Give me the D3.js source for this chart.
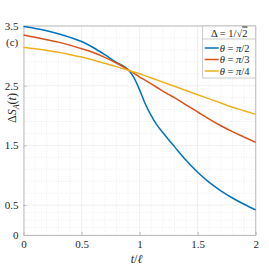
<!DOCTYPE html>
<html>
<head>
<meta charset="utf-8">
<script src="https://cdn.jsdelivr.net/npm/d3@7"></script>
<style>
  body { margin: 0; background: #fff; }
  svg text { font-family: "Liberation Serif", "DejaVu Serif", serif; fill: #262626; }
</style>
</head>
<body>
<div id="chart"></div>
<script>
// Data
const tValues = [0, 0.1, 0.2, 0.3, 0.4, 0.5, 0.6, 0.7, 0.8, 0.9, 0.95, 1.0, 1.05, 1.1, 1.15, 1.2, 1.25, 1.3, 1.4, 1.5, 1.6, 1.7, 1.8, 1.9, 2.0];
const seriesPi2 = [3.49, 3.46, 3.42, 3.37, 3.31, 3.24, 3.14, 3.02, 2.89, 2.77, 2.64, 2.43, 2.19, 2.00, 1.84, 1.715, 1.595, 1.48, 1.25, 1.05, 0.88, 0.74, 0.62, 0.515, 0.42];
const seriesPi3 = [3.35, 3.31, 3.27, 3.23, 3.18, 3.12, 3.055, 2.975, 2.88, 2.77, 2.71, 2.645, 2.59, 2.53, 2.47, 2.41, 2.355, 2.30, 2.18, 2.06, 1.94, 1.83, 1.73, 1.64, 1.55];
const seriesPi4 = [3.14, 3.12, 3.09, 3.06, 3.02, 2.98, 2.93, 2.875, 2.82, 2.76, 2.73, 2.70, 2.665, 2.63, 2.595, 2.56, 2.525, 2.49, 2.42, 2.35, 2.28, 2.21, 2.14, 2.08, 2.02];
const seriesLabels = ["π/2", "π/3", "π/4"];
const xTicks = [0, 0.5, 1, 1.5, 2];
const yTicks = [0, 0.5, 1.5, 2.5, 3.5];
const xMinor = [0.1, 0.2, 0.3, 0.4, 0.6, 0.7, 0.8, 0.9, 1.1, 1.2, 1.3, 1.4, 1.6, 1.7, 1.8, 1.9];
const yMinor = [0.125, 0.25, 0.375, 0.7, 0.9, 1.1, 1.3, 1.7, 1.9, 2.1, 2.3, 2.7, 2.9, 3.1, 3.3];

const colors = ["#0072BD", "#D95319", "#EDB120"];
const serif = "'Liberation Serif', 'DejaVu Serif', serif";

const W = 269, H = 273;
const margin = { top: 26, right: 13.3, bottom: 38, left: 23.5 };
const width = W - margin.left - margin.right;
const height = H - margin.top - margin.bottom;

const svg = d3.select("#chart").append("svg")
    .attr("width", W)
    .attr("height", H)
    .attr("font-family", serif);

const g = svg.append("g")
    .attr("transform", `translate(${margin.left},${margin.top})`);

const x = d3.scaleLinear().domain([0, 2]).range([0, width]);
const y = d3.scaleLinear().domain([0, 3.5]).range([height, 0]);

// Minor grid
g.append("g").selectAll("line").data(xMinor).join("line")
    .attr("x1", d => x(d)).attr("x2", d => x(d))
    .attr("y1", 0).attr("y2", height)
    .attr("stroke", "#e2e2e2").attr("stroke-width", 0.6).attr("stroke-dasharray", "1,1.5");
g.append("g").selectAll("line").data(yMinor).join("line")
    .attr("y1", d => y(d)).attr("y2", d => y(d))
    .attr("x1", 0).attr("x2", width)
    .attr("stroke", "#e2e2e2").attr("stroke-width", 0.6).attr("stroke-dasharray", "1,1.5");

// Major grid
g.append("g").selectAll("line").data(xTicks).join("line")
    .attr("x1", d => x(d)).attr("x2", d => x(d))
    .attr("y1", 0).attr("y2", height)
    .attr("stroke", "#ebebeb").attr("stroke-width", 0.8);
g.append("g").selectAll("line").data(yTicks).join("line")
    .attr("y1", d => y(d)).attr("y2", d => y(d))
    .attr("x1", 0).attr("x2", width)
    .attr("stroke", "#ebebeb").attr("stroke-width", 0.8);

// Axes
const xAxis = d3.axisBottom(x).tickValues(xTicks).tickSizeInner(-3).tickSizeOuter(0)
    .tickPadding(5).tickFormat(d3.format("~g"));
const yAxis = d3.axisLeft(y).tickValues(yTicks).tickSizeInner(-3).tickSizeOuter(0)
    .tickPadding(5).tickFormat(d3.format("~g"));

const gx = g.append("g").attr("transform", `translate(0,${height})`).call(xAxis);
const gy = g.append("g").call(yAxis);
[gx, gy].forEach(a => {
    a.attr("font-family", serif).attr("font-size", 11);
    a.selectAll(".domain").attr("stroke", "#bdbdbd");
    a.selectAll(".tick line").attr("stroke", "#bdbdbd");
    a.selectAll("text").attr("fill", "#262626");
});
// box
g.append("line").attr("x1", 0).attr("x2", width).attr("y1", 0).attr("y2", 0).attr("stroke", "#bdbdbd");
g.append("line").attr("x1", width).attr("x2", width).attr("y1", 0).attr("y2", height).attr("stroke", "#bdbdbd");

// Lines
const series = [seriesPi2, seriesPi3, seriesPi4];
const line = d3.line()
    .x((d, i) => x(tValues[i]))
    .y(d => y(d))
    .curve(d3.curveMonotoneX);

g.append("g").selectAll("path").data(series).join("path")
    .attr("d", d => line(d))
    .attr("fill", "none")
    .attr("stroke", (d, i) => colors[i])
    .attr("stroke-width", 1.5);

// Legend
const lg = g.append("g").attr("transform", `translate(${width - 53},0)`);
lg.append("rect").attr("width", 53).attr("height", 52)
    .attr("fill", "#fff").attr("stroke", "#bdbdbd").attr("stroke-width", 0.8);
lg.append("line").attr("x1", 0).attr("x2", 53).attr("y1", 13).attr("y2", 13)
    .attr("stroke", "#bdbdbd").attr("stroke-width", 0.8);
const title = lg.append("text").attr("x", 26.5).attr("y", 10.5)
    .attr("text-anchor", "middle").attr("font-size", 10.5);
title.append("tspan").text("Δ = 1/√");
title.append("tspan").attr("text-decoration", "overline").text("2");

seriesLabels.forEach((lab, i) => {
    const yy = 22 + i * 11.5;
    lg.append("line").attr("x1", 2).attr("x2", 16).attr("y1", yy).attr("y2", yy)
        .attr("stroke", colors[i]).attr("stroke-width", 1.5);
    const t = lg.append("text").attr("x", 17).attr("y", yy + 3.5).attr("font-size", 10.5);
    t.append("tspan").attr("font-style", "italic").text("θ");
    t.append("tspan").text(" = ");
    t.append("tspan").attr("font-style", "italic").text("π");
    t.append("tspan").text(lab.slice(1));
});

// Panel tag
svg.append("text").attr("x", 6).attr("y", 46).attr("font-size", 11).text("(c)");

// Axis labels
const yl = svg.append("text")
    .attr("transform", `translate(16,108) rotate(-90)`)
    .attr("text-anchor", "middle").attr("font-size", 12);
yl.append("tspan").text("Δ");
yl.append("tspan").attr("font-style", "italic").text("S");
yl.append("tspan").attr("font-style", "italic").attr("font-size", 8).attr("dy", 2.5).text("A");
yl.append("tspan").attr("dy", -2.5).text("(");
yl.append("tspan").attr("font-style", "italic").text("t");
yl.append("tspan").text(")");

const xl = svg.append("text")
    .attr("x", margin.left + width / 2 - 3).attr("y", 263)
    .attr("text-anchor", "middle").attr("font-size", 12);
xl.append("tspan").attr("font-style", "italic").text("t");
xl.append("tspan").text("/");
xl.append("tspan").attr("font-style", "italic").text("ℓ");
</script>
</body>
</html>
